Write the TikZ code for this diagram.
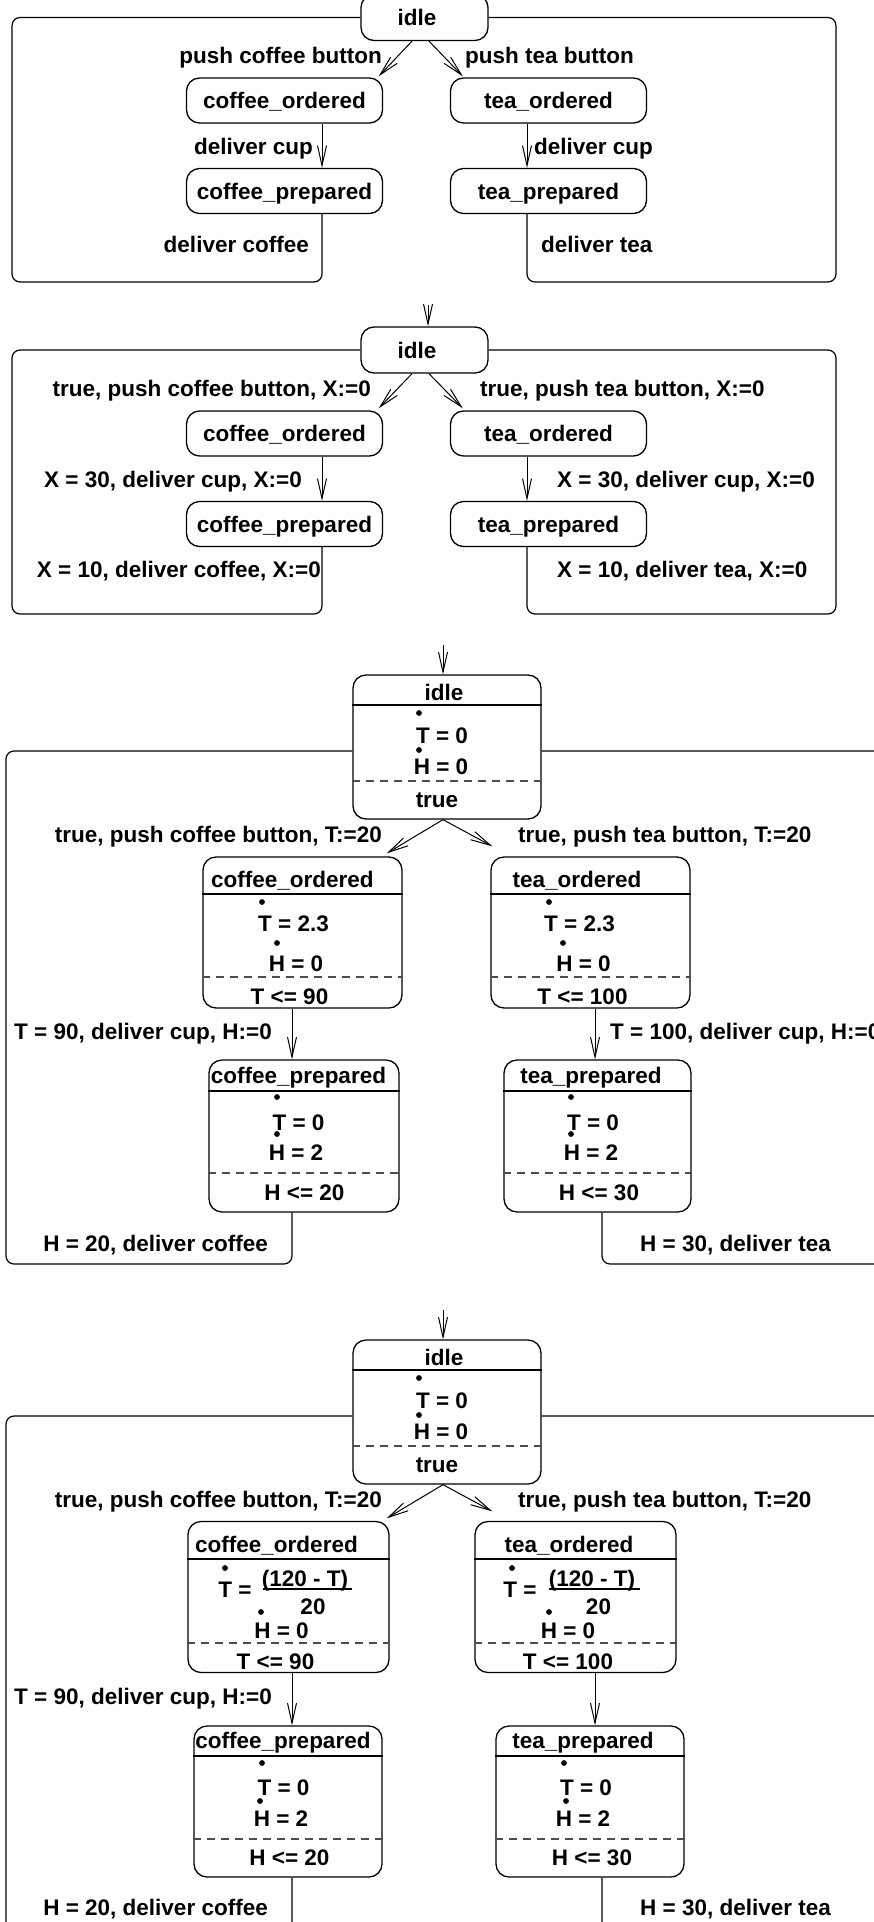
\documentclass[tikz,border=0pt]{standalone}
\usepackage{fontspec}
\setmainfont{Liberation Sans}
\usetikzlibrary{arrows.meta,calc}

\begin{document}
\begin{tikzpicture}[x=1pt,y=-1pt,
  every node/.style={font=\fontsize{22.5}{27}\selectfont\bfseries},
  sbox/.style={draw, line width=1.3pt, rectangle, rounded corners=13pt, inner sep=0pt,
               text height=16pt, text depth=0pt},
  small/.style={minimum width=196pt, minimum height=45pt},
  lbl/.style={inner sep=0pt, text height=16pt, text depth=0pt},
  arr/.style={line width=1pt, -{Straight Barb[length=20pt,width=9pt]}},
  conn/.style={line width=1.2pt, rounded corners=8pt},
  hdr/.style={line width=1.3pt},
  inv/.style={line width=1.3pt, dash pattern=on 8pt off 6pt, black!70},
  dt/.style={fill=black}
]
\useasboundingbox (0,0) rectangle (874,1922);
\clip (0,0) rectangle (874,1922);

% ---------------- untimed machine ----------------
\node[sbox, minimum width=127pt, minimum height=46pt] (idleA) at (424.5,17.5) {idle\hspace*{15pt}};
\node[sbox, small] (coA) at (284.5,100.5) {coffee\_ordered};
\node[sbox, small] (toA) at (548.5,100.5) {tea\_ordered};
\node[sbox, small] (cpA) at (284.5,191) {coffee\_prepared};
\node[sbox, small] (tpA) at (548.5,191) {tea\_prepared};

\draw[arr] ([xshift=-12.5pt]idleA.south) -- ([xshift=-4.5pt,yshift=1pt]coA.north east);
\draw[arr] ([xshift=4.5pt]idleA.south) -- ([xshift=13pt,yshift=1pt]toA.north west);
\draw[arr] ([xshift=37.5pt]coA.south) -- ([xshift=37.5pt]cpA.north);
\draw[arr] ([xshift=-21.5pt]toA.south) -- ([xshift=-21.5pt]tpA.north);
\coordinate (aBL) at (12,282);
\coordinate (aBR) at (836,282);
\draw[conn] ([xshift=37.5pt]cpA.south) |- (aBL) |- (idleA.west);
\draw[conn] ([xshift=-21.5pt]tpA.south) |- (aBR) |- (idleA.east);

\node[lbl, anchor=east] (lA1) at (382,55) {push coffee button};
\node[lbl, anchor=west] (lA2) at (465,55) {push tea button};
\node[lbl, anchor=east] (lA3) at (313,146) {deliver cup};
\node[lbl, anchor=west] (lA4) at (534,146) {deliver cup};
\node[lbl, anchor=east] (lA5) at (309,244) {deliver coffee};
\node[lbl, anchor=west] (lA6) at (541,244) {deliver tea};

% ---------------- timed automaton ----------------
\coordinate (inB) at (428,305);
\node[sbox, minimum width=127pt, minimum height=46pt] (idleB) at (424.5,350) {idle\hspace*{15pt}};
\node[sbox, small] (coB) at (284.5,433.5) {coffee\_ordered};
\node[sbox, small] (toB) at (548.5,433.5) {tea\_ordered};
\node[sbox, small] (cpB) at (284.5,524) {coffee\_prepared};
\node[sbox, small] (tpB) at (548.5,524) {tea\_prepared};

\draw[arr] (inB) -- (inB |- idleB.north);
\draw[arr] ([xshift=-12.5pt]idleB.south) -- ([xshift=-4.5pt,yshift=2pt]coB.north east);
\draw[arr] ([xshift=4.5pt]idleB.south) -- ([xshift=13pt,yshift=2pt]toB.north west);
\draw[arr] ([xshift=37.5pt]coB.south) -- ([xshift=37.5pt]cpB.north);
\draw[arr] ([xshift=-21.5pt]toB.south) -- ([xshift=-21.5pt]tpB.north);
\coordinate (bBL) at (12,614);
\coordinate (bBR) at (836,614);
\draw[conn] ([xshift=37.5pt]cpB.south) |- (bBL) |- (idleB.west);
\draw[conn] ([xshift=-21.5pt]tpB.south) |- (bBR) |- (idleB.east);

\node[lbl, anchor=east] (lB1) at (371,388) {true, push coffee button, X:=0};
\node[lbl, anchor=west] (lB2) at (480,388) {true, push tea button, X:=0};
\node[lbl, anchor=east] (lB3) at (302,479) {X = 30, deliver cup, X:=0};
\node[lbl, anchor=west] (lB4) at (557,479) {X = 30, deliver cup, X:=0};
\node[lbl, anchor=east] (lB5) at (321,569) {X = 10, deliver coffee, X:=0};
\node[lbl, anchor=west] (lB6) at (557,569) {X = 10, deliver tea, X:=0};

% ---------------- hybrid automaton, constant rates ----------------
\coordinate (inC) at (443,645);
\node[sbox, minimum width=188pt, minimum height=144pt] (idleC) at (447,747) {};
\node[sbox, minimum width=199pt, minimum height=151pt] (coC) at (302.5,932.5) {};
\node[sbox, minimum width=199pt, minimum height=151pt] (toC) at (590.5,932.5) {};
\node[sbox, minimum width=190pt, minimum height=152pt] (cpC) at (304,1136) {};
\node[sbox, minimum width=187pt, minimum height=152pt] (tpC) at (597.5,1136) {};

% compartments
\draw[hdr] (idleC.west |- 0,705) -- (idleC.east |- 0,705);
\draw[inv] (idleC.west |- 0,781) -- (idleC.east |- 0,781);
\draw[hdr] (coC.west |- 0,894) -- (coC.east |- 0,894);
\draw[inv] (coC.west |- 0,977) -- (coC.east |- 0,977);
\draw[hdr] (toC.west |- 0,894) -- (toC.east |- 0,894);
\draw[inv] (toC.west |- 0,977) -- (toC.east |- 0,977);
\draw[hdr] (cpC.west |- 0,1091) -- (cpC.east |- 0,1091);
\draw[inv] (cpC.west |- 0,1173) -- (cpC.east |- 0,1173);
\draw[hdr] (tpC.west |- 0,1091) -- (tpC.east |- 0,1091);
\draw[inv] (tpC.west |- 0,1173) -- (tpC.east |- 0,1173);

% idle
\node[lbl] (iC1) at (444,692) {idle};
\node[lbl] (iC2) at (442,735) {T = 0};
\node[lbl] (iC3) at (441,766) {H = 0};
\node[lbl] (iC4) at (437,799) {true};
\fill[dt] (419,713) circle (2.9pt);
\fill[dt] (419,750) circle (2.9pt);
% coffee_ordered
\node[lbl, anchor=west] (cC1) at (211,879) {coffee\_ordered};
\node[lbl] (cC2) at (293.5,923) {T = 2.3};
\node[lbl] (cC3) at (296,963) {H = 0};
\node[lbl] (cC4) at (289.5,996) {T <= 90};
\fill[dt] (262,902) circle (2.9pt);
\fill[dt] (277,943) circle (2.9pt);
% tea_ordered
\node[lbl] (tC1) at (577,879) {tea\_ordered};
\node[lbl] (tC2) at (579.5,923) {T = 2.3};
\node[lbl] (tC3) at (583.5,963) {H = 0};
\node[lbl] (tC4) at (582.5,996) {T <= 100};
\fill[dt] (549,902) circle (2.9pt);
\fill[dt] (563,943) circle (2.9pt);
% coffee_prepared
\node[lbl] (pC1) at (298.5,1075) {coffee\_prepared};
\node[lbl] (pC2) at (298.5,1122) {T = 0};
\node[lbl] (pC3) at (296,1152) {H = 2};
\node[lbl] (pC4) at (304.5,1192) {H <= 20};
\fill[dt] (277,1097) circle (2.9pt);
\fill[dt] (277,1134) circle (2.9pt);
% tea_prepared
\node[lbl] (qC1) at (591,1075) {tea\_prepared};
\node[lbl] (qC2) at (593,1122) {T = 0};
\node[lbl] (qC3) at (591,1152) {H = 2};
\node[lbl] (qC4) at (599,1192) {H <= 30};
\fill[dt] (571,1097) circle (2.9pt);
\fill[dt] (571,1134) circle (2.9pt);

% transitions
\draw[arr] (inC) -- (inC |- idleC.north);
\draw[arr] ([xshift=-4pt]idleC.south) -- ([xshift=-16pt,yshift=3pt]coC.north east);
\draw[arr] ([xshift=-4pt]idleC.south) -- ([xshift=2pt,yshift=10pt]toC.north west);
\coordinate (c1) at ([xshift=-10.5pt]coC.south);
\coordinate (c2) at ([xshift=4.5pt]toC.south);
\draw[arr] (c1) -- (c1 |- cpC.north);
\draw[arr] (c2) -- (c2 |- tpC.north);
\coordinate (cTL) at (6,751);
\coordinate (cBL) at (6,1264);
\coordinate (cTR) at (900,751);
\coordinate (cBR) at (900,1264);
\draw[conn] ([xshift=-12pt]cpC.south) |- (cBL) -- (cTL) -- (cTL -| idleC.west);
\draw[conn] ([xshift=4.5pt]tpC.south) |- (cBR) -- (cTR) -- (cTR -| idleC.east);

\node[lbl, anchor=east] (lC1) at (382,834) {true, push coffee button, T:=20};
\node[lbl, anchor=west] (lC2) at (518,834) {true, push tea button, T:=20};
\node[lbl, anchor=east] (lC3) at (272,1031) {T = 90, deliver cup, H:=0};
\node[lbl, anchor=west] (lC4) at (610,1031) {T = 100, deliver cup, H:=0};
\node[lbl, anchor=east] (lC5) at (268,1243) {H = 20, deliver coffee};
\node[lbl, anchor=west] (lC6) at (640,1243) {H = 30, deliver tea};

% ---------------- hybrid automaton, temperature dependent rate ----------------
\coordinate (inD) at (443,1310);
\node[sbox, minimum width=188pt, minimum height=144pt] (idleD) at (447,1412) {};
\node[sbox, minimum width=201pt, minimum height=151pt] (coD) at (288.5,1597) {};
\node[sbox, minimum width=201pt, minimum height=151pt] (toD) at (575.5,1597) {};
\node[sbox, minimum width=188pt, minimum height=151pt] (cpD) at (288,1801.5) {};
\node[sbox, minimum width=188pt, minimum height=151pt] (tpD) at (590,1801.5) {};

\draw[hdr] (idleD.west |- 0,1370) -- (idleD.east |- 0,1370);
\draw[inv] (idleD.west |- 0,1446) -- (idleD.east |- 0,1446);
\draw[hdr] (coD.west |- 0,1559) -- (coD.east |- 0,1559);
\draw[inv] (coD.west |- 0,1643) -- (coD.east |- 0,1643);
\draw[hdr] (toD.west |- 0,1559) -- (toD.east |- 0,1559);
\draw[inv] (toD.west |- 0,1643) -- (toD.east |- 0,1643);
\draw[hdr] (cpD.west |- 0,1756) -- (cpD.east |- 0,1756);
\draw[inv] (cpD.west |- 0,1839) -- (cpD.east |- 0,1839);
\draw[hdr] (tpD.west |- 0,1756) -- (tpD.east |- 0,1756);
\draw[inv] (tpD.west |- 0,1839) -- (tpD.east |- 0,1839);

% idle
\node[lbl] (iD1) at (444,1357) {idle};
\node[lbl] (iD2) at (442,1400) {T = 0};
\node[lbl] (iD3) at (441,1431) {H = 0};
\node[lbl] (iD4) at (437,1464) {true};
\fill[dt] (419,1378) circle (2.9pt);
\fill[dt] (419,1415) circle (2.9pt);
% coffee_ordered
\node[lbl] (cD1) at (276.5,1544) {coffee\_ordered};
\node[lbl] (cD2) at (235,1589) {T =};
\node[lbl] (cD3) at (305,1578) {(120 - T)};
\node[lbl] (cD4) at (313,1606) {20};
\node[lbl] (cD5) at (281.5,1630) {H = 0};
\node[lbl] (cD6) at (275.5,1661) {T <= 90};
\draw[hdr] (263,1589) -- (352,1589);
\fill[dt] (225,1568) circle (2.9pt);
\fill[dt] (261,1612) circle (2.9pt);
% tea_ordered
\node[lbl] (tD1) at (569,1544) {tea\_ordered};
\node[lbl] (tD2) at (520,1589) {T =};
\node[lbl] (tD3) at (592,1578) {(120 - T)};
\node[lbl] (tD4) at (598.5,1606) {20};
\node[lbl] (tD5) at (568,1630) {H = 0};
\node[lbl] (tD6) at (568,1661) {T <= 100};
\draw[hdr] (549,1589) -- (640,1589);
\fill[dt] (512,1568) circle (2.9pt);
\fill[dt] (549,1612) circle (2.9pt);
% coffee_prepared
\node[lbl] (pD1) at (283,1740) {coffee\_prepared};
\node[lbl] (pD2) at (283.5,1787) {T = 0};
\node[lbl] (pD3) at (281,1818) {H = 2};
\node[lbl] (pD4) at (289.5,1857) {H <= 20};
\fill[dt] (262,1763) circle (2.9pt);
\fill[dt] (260,1801) circle (2.9pt);
% tea_prepared
\node[lbl] (qD1) at (583,1740) {tea\_prepared};
\node[lbl] (qD2) at (586,1787) {T = 0};
\node[lbl] (qD3) at (583,1818) {H = 2};
\node[lbl] (qD4) at (592,1857) {H <= 30};
\fill[dt] (564,1763) circle (2.9pt);
\fill[dt] (566,1801) circle (2.9pt);

% transitions
\draw[arr] (inD) -- (inD |- idleD.north);
\draw[arr] ([xshift=-4pt]idleD.south) -- ([xshift=-3pt,yshift=2.5pt]coD.north east);
\draw[arr] ([xshift=-4pt]idleD.south) -- ([xshift=18pt,yshift=9.5pt]toD.north west);
\coordinate (d1) at ([xshift=3.5pt]coD.south);
\coordinate (d2) at ([xshift=19.5pt]toD.south);
\draw[arr] (d1) -- (d1 |- cpD.north);
\draw[arr] (d2) -- (d2 |- tpD.north);
\coordinate (dTL) at (6,1416);
\coordinate (dBL) at (6,1940);
\coordinate (dTR) at (900,1416);
\coordinate (dBR) at (900,1940);
\draw[conn] ([xshift=4pt]cpD.south) |- (dBL) -- (dTL) -- (dTL -| idleD.west);
\draw[conn] ([xshift=12pt]tpD.south) |- (dBR) -- (dTR) -- (dTR -| idleD.east);

\node[lbl, anchor=east] (lD1) at (382,1499) {true, push coffee button, T:=20};
\node[lbl, anchor=west] (lD2) at (518,1499) {true, push tea button, T:=20};
\node[lbl, anchor=east] (lD3) at (272,1696) {T = 90, deliver cup, H:=0};
\node[lbl, anchor=east] (lD5) at (268,1907) {H = 20, deliver coffee};
\node[lbl, anchor=west] (lD6) at (640,1907) {H = 30, deliver tea};
\end{tikzpicture}
\end{document}
